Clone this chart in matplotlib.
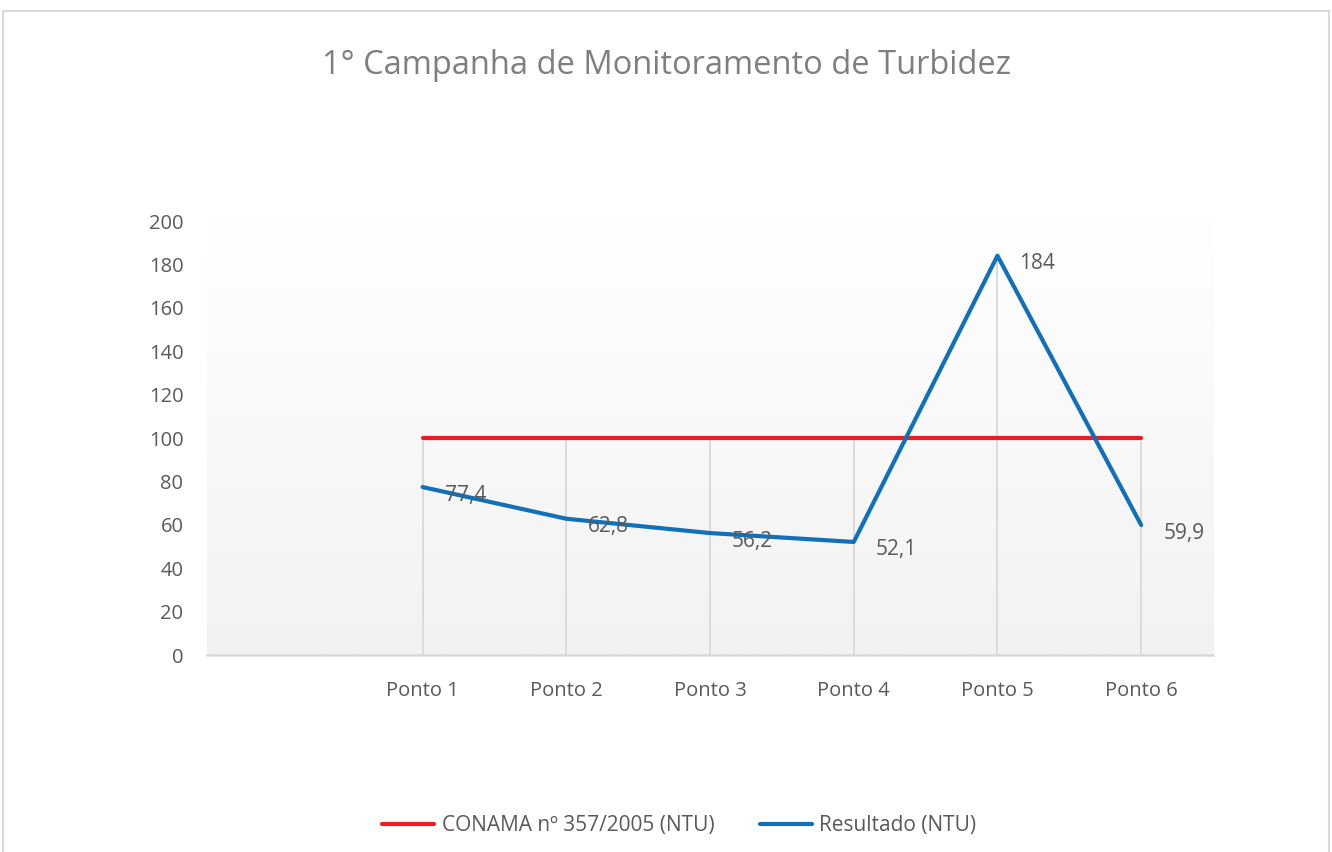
import numpy as np
import matplotlib.pyplot as plt
from matplotlib.colors import LinearSegmentedColormap
from matplotlib.patches import Rectangle

plt.rcParams['font.family'] = ['Open Sans', 'DejaVu Sans']

# first category is left empty, as in the source sheet
categories = ['', 'Ponto 1', 'Ponto 2', 'Ponto 3', 'Ponto 4', 'Ponto 5', 'Ponto 6']
conama = [np.nan, 100, 100, 100, 100, 100, 100]
resultado = [np.nan, 77.4, 62.8, 56.2, 52.1, 184, 59.9]
labels = ['', '77,4', '62,8', '56,2', '52,1', '184', '59,9']

text_grey = '#595959'
grid_grey = '#d9d9d9'
red = '#ED1C24'
blue = '#1170BA'

fig = plt.figure(figsize=(13.32, 8.52), dpi=100)
fig.patches.append(Rectangle((0.0025, -0.01), 0.995, 0.997, transform=fig.transFigure,
                             fill=False, edgecolor=grid_grey, linewidth=1.5))

ax = fig.add_axes([0.1554, 0.2312, 0.7553, 0.5094])
x = np.arange(len(categories))

# soft white-to-grey plot area
grad = np.linspace(1.0, 0.0, 256).reshape(-1, 1)
bg = LinearSegmentedColormap.from_list('bg', ['#f2f2f2', '#ffffff'])
ax.imshow(grad, extent=[0, 1, 0, 1], transform=ax.transAxes, aspect='auto',
          cmap=bg, zorder=0)

# drop lines from the highest series value down to the axis
for xi, a, b in zip(x, conama, resultado):
    if np.isnan(a):
        continue
    ax.vlines(xi, 0, max(a, b), color=grid_grey, lw=1.3, zorder=1)

ax.plot(x, conama, color=red, lw=3, solid_capstyle='round', zorder=3,
        label='CONAMA nº 357/2005 (NTU)')
ax.plot(x, resultado, color=blue, lw=3, solid_capstyle='round', zorder=3,
        label='Resultado (NTU)')

for xi, v, t in zip(x, resultado, labels):
    if t:
        ax.annotate(t, (xi, v), xytext=(22, -8), textcoords='offset pixels',
                    ha='left', va='center', fontsize=15, color=text_grey, zorder=4)

ax.set_xlim(-0.5, len(categories) - 0.5)
ax.set_ylim(0, 200)
ax.set_yticks(range(0, 201, 20))
ax.set_xticks(x)
ax.set_xticklabels(categories)
ax.tick_params(axis='both', length=0, labelsize=14.5, labelcolor=text_grey)
ax.tick_params(axis='x', pad=19)
ax.tick_params(axis='y', pad=17)
for s in ['top', 'right', 'left']:
    ax.spines[s].set_visible(False)
ax.spines['bottom'].set_color(grid_grey)
ax.spines['bottom'].set_linewidth(1.8)

fig.text(0.5, 0.923, '1° Campanha de Monitoramento de Turbidez', ha='center', va='center',
         fontsize=23.5, color='#7f7f7f')

leg = fig.legend(loc='center', bbox_to_anchor=(0.51, 0.031), ncol=2, frameon=False,
                 fontsize=15, handlelength=2.5, handletextpad=0.35, columnspacing=2.2)
for t in leg.get_texts():
    t.set_color(text_grey)

fig.savefig('out.png', dpi=100)
